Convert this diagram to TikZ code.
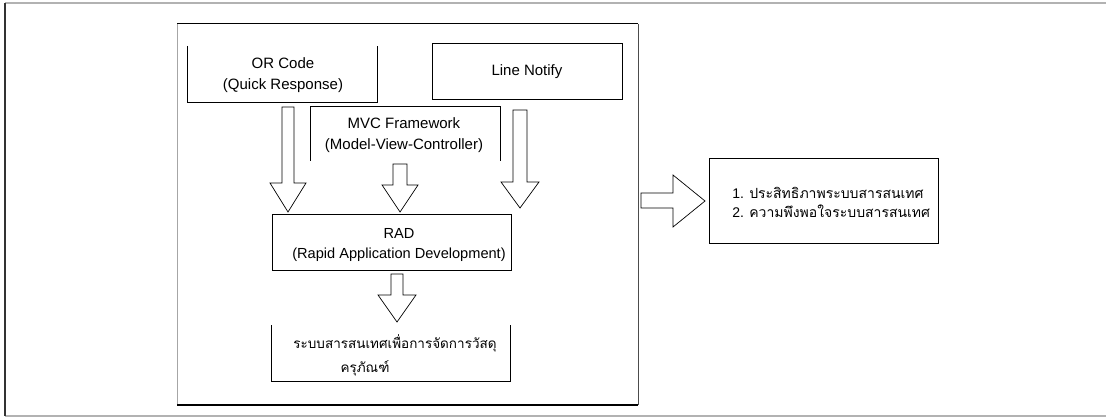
\documentclass[tikz,border=0pt]{standalone}
\usepackage{fontspec}
\setmainfont{Liberation Sans}
\newfontfamily\thaifont[Script=Thai]{Loma}
\begin{document}
\begin{tikzpicture}[x=1pt,y=-1pt,line width=0.8pt,
  txt/.style={font=\fontsize{15}{20.5}\selectfont, align=center, inner sep=0pt},
  area/.style={inner sep=0pt, outer sep=0pt},
  blk/.style={draw=black, line width=0.7pt, fill=white, line join=miter}]
\useasboundingbox (0,0) rectangle (1106,417);
% outer frame
\draw[gray!60, line width=1.5pt] (1106,3) -- (5,3);
\draw[gray!60, line width=1.5pt] (5,416) -- (1106,416);
\draw[black!80, line width=1.2pt] (5,3) -- (5,416);
% big inner box
\coordinate (bnw) at (177,24);
\coordinate (bse) at (638,405);
\draw[gray!70, line width=1pt] (bnw) -- (bnw |- bse);
\draw[black, line width=1pt] (bnw) -- (bse |- bnw);
\draw[black!70, line width=1pt] (bse |- bnw) -- (bse);
\draw[black, line width=2pt] (bnw |- bse) -- (bse);
% box areas
\node[area, minimum width=190pt, minimum height=56pt] (qr) at (282,74) {};
\node[area, minimum width=190pt, minimum height=56pt] (ln) at (527,71) {};
\node[area, minimum width=190pt, minimum height=55pt] (mvc) at (405,133.5) {};
\node[area, minimum width=239pt, minimum height=56pt] (rad) at (391.5,242) {};
\node[area, minimum width=239pt, minimum height=56pt] (sys) at (390.5,353) {};
\node[area, minimum width=229pt, minimum height=85pt] (res) at (823.5,200.5) {};
% borders
\draw (qr.north west) -- (qr.south west) -- (qr.south east) -- (qr.north east);
\draw (ln.north west) rectangle (ln.south east);
\draw (mvc.south west) -- (mvc.north west) -- (mvc.north east) -- (mvc.south east);
\draw (rad.north west) rectangle (rad.south east);
\draw (sys.north west) -- (sys.south west) -- (sys.south east) -- (sys.north east);
\draw (res.north west) rectangle (res.south east);
% texts
\node[txt] (qrt) at (283,75) {OR Code\\(Quick Response)};
\node[txt] (lnt) at (527,72) {Line Notify};
\node[txt] (mvct) at (404,135) {MVC Framework\\(Model-View-Controller)};
\node[txt, font=\fontsize{14.6}{20.5}\selectfont] (radt) at (399,245) {RAD\\(Rapid Application Development)};
\node[txt, font=\thaifont\fontsize{13.5}{24}\selectfont] (syst) at (395,355) {ระบบสารสนเทศเพื่อการจัดการวัสดุ\\ครุภัณฑ์\hspace*{60pt}};
\node[txt, align=left, anchor=west, font=\fontsize{14}{19}\selectfont] (rest) at (732,202)
  {1. {\thaifont ประสิทธิภาพระบบสารสนเทศ}\\2. {\thaifont ความพึงพอใจระบบสารสนเทศ}};
% block arrows (down)
\newcommand\dblk[6]{% cx, half shaft, y0, y1, half head, tip
  \draw[blk] (#1-#2,#3) -- (#1+#2,#3) -- (#1+#2,#4) -- (#1+#5,#4) -- (#1,#6)
    -- (#1-#5,#4) -- (#1-#2,#4) -- cycle;}
\dblk{288}{6}{107}{183}{18}{212}
\dblk{400}{7}{164}{185}{18}{212}
\dblk{520}{7}{110}{182}{19}{208}
\dblk{397}{6}{274}{295}{19}{322}
% right block arrow
\draw[blk] (641,193) -- (673,193) -- (673,175) -- (705,201) -- (673,227) -- (673,208) -- (641,208) -- cycle;
\end{tikzpicture}
\end{document}
